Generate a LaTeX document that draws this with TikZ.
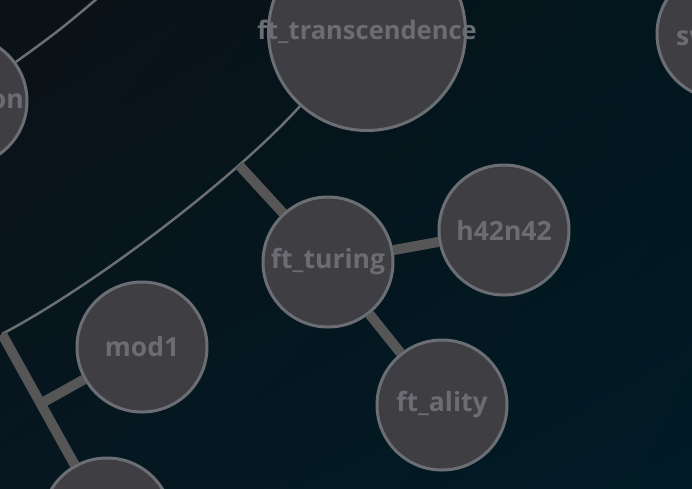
\documentclass[tikz,border=0pt]{standalone}
\usepackage{fontspec}
\setmainfont{Open Sans}
\usetikzlibrary{shadings}
\definecolor{nodegray}{HTML}{3E3E43}
\definecolor{ringgray}{HTML}{6B6E73}
\definecolor{labelgray}{HTML}{6C6D72}
\definecolor{stemgray}{HTML}{565656}
\definecolor{bgA}{HTML}{0B1116}
\definecolor{bgB}{HTML}{02161E}
\definecolor{bgC}{HTML}{061720}
\definecolor{bgD}{HTML}{001B26}
\pgfdeclarelayer{backdrop}
\pgfdeclarelayer{edges}
\pgfsetlayers{backdrop,edges,main}

\begin{document}
\begin{tikzpicture}[
		x=1pt, y=-1pt,
		topic/.style={circle, draw=ringgray, line width=3pt, fill=nodegray,
			minimum size=130pt, inner sep=0pt, text=labelgray,
			font=\bfseries\fontsize{26.5}{26.5}\selectfont},
		bigtopic/.style={topic, minimum size=197pt},
		cutlabel/.style={inner sep=0pt, text=labelgray,
			font=\bfseries\fontsize{26.5}{26.5}\selectfont},
		branch/.style={draw=ringgray, line width=2.5pt},
		stem/.style={draw=stemgray, line width=10pt},
	]
		\useasboundingbox (0,0) rectangle (692,488);
		\clip (0,0) rectangle (692,488);
		\begin{pgfonlayer}{backdrop}
			\shade[upper left=bgA, upper right=bgB, lower left=bgC, lower right=bgD]
				(0,0) rectangle (692,488);
		\end{pgfonlayer}

		% nodes
		\node [bigtopic] (trans) at (367,32) {};
		\node [cutlabel, font=\bfseries\fontsize{25.5}{25.5}\selectfont]
			(translabel) at (367,32) {ft\_transcendence};
		\node [topic] (on) at (-38,101) {};
		\node [topic] (sw) at (722,34) {};
		\node [topic] (turing) at (328,262) {ft\_turing};
		\node [topic] (h42) at (504,230) {h42n42};
		\node [topic] (mod1) at (142,347) {mod1};
		\node [topic] (ality) at (442,405) {ft\_ality};
		\node [topic] (low) at (107,523) {};
		\node [cutlabel, anchor=east] (onlabel) at (24,101) {on};
		\node [cutlabel, anchor=west] (swlabel) at (676,38) {sw};
		\coordinate (fork) at (2,334);
		\coordinate (upleft) at (112,-14);
		\coordinate (split) at (40,404);

		% edges
		\begin{pgfonlayer}{edges}
			\draw [branch] (on) .. controls (60,30) .. (upleft);
			\draw [branch] (trans) .. controls (235,178) and (95,285)
				.. coordinate[pos=0.25] (tap) (fork);
			\draw [stem] (fork) -- (low);
			\draw [stem] (split) -- (mod1);
			\draw [stem] (tap) -- (turing);
			\draw [stem] (turing) -- (h42);
			\draw [stem] (turing) -- (ality);
		\end{pgfonlayer}
	\end{tikzpicture}
\end{document}
